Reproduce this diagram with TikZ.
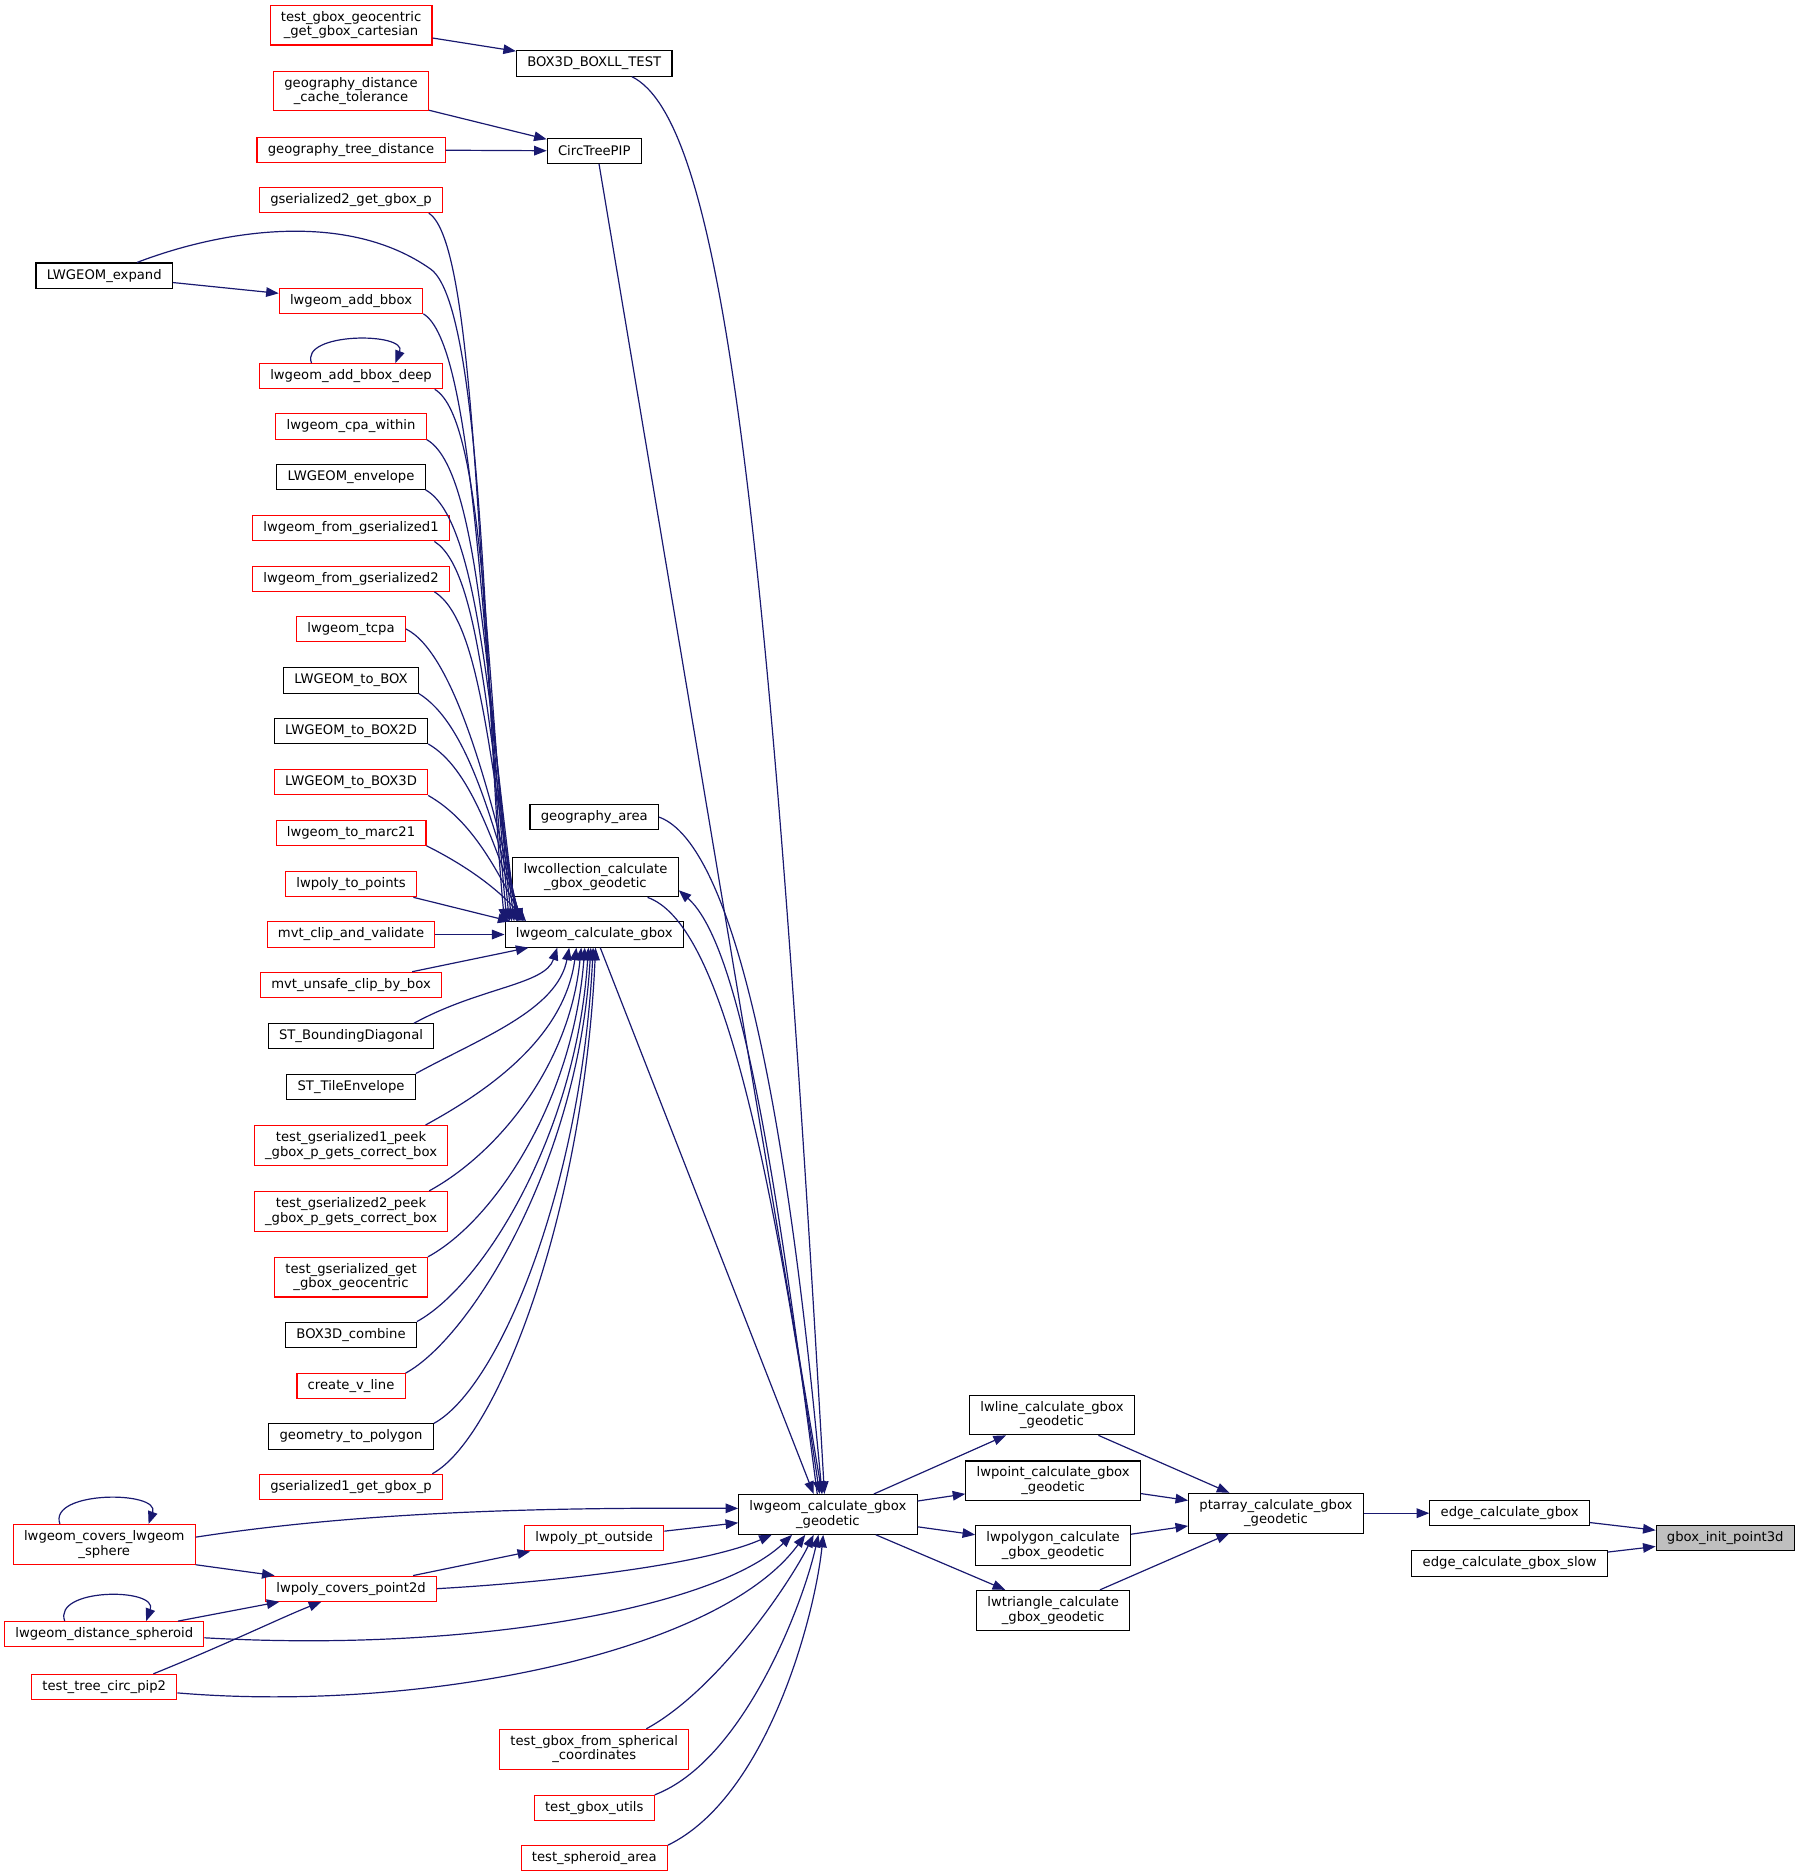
\documentclass[tikz,border=0pt]{standalone}
\usepackage{fontspec}
\setmainfont{DejaVu Sans}
\usetikzlibrary{arrows.meta}
\definecolor{callblue}{RGB}{25, 25, 112}
\definecolor{focusgray}{RGB}{191, 191, 191}
\tikzset{>={Triangle[length=10.5pt,width=8pt]}}
\tikzset{
	fn/.style={draw=black, fill=white, line width=0.9pt, inner xsep=9pt, inner ysep=5pt, minimum height=21pt, align=center, font=\fontsize{11pt}{12.2pt}\selectfont},
	fnred/.style={fn, draw=red},
	fnfocus/.style={fn, fill=focusgray},
	call/.style={draw=callblue, line width=1pt, ->, color=callblue}
}

\begin{document}
\begin{tikzpicture}[x=1pt, y=-1pt]
	\useasboundingbox (0,0) rectangle (1500,1565);

	% right part
	\node[fnfocus] (gbox) at (1440,1284) {gbox\_init\_point3d};
	\node[fn] (ecg) at (1260,1263) {edge\_calculate\_gbox};
	\node[fn] (ecgs) at (1260,1305) {edge\_calculate\_gbox\_slow};
	\node[fn] (ptarr) at (1065,1263) {ptarray\_calculate\_gbox\\\_geodetic};
	\node[fn] (lwline) at (878,1181) {lwline\_calculate\_gbox\\\_geodetic};
	\node[fn] (lwpoint) at (879,1236) {lwpoint\_calculate\_gbox\\\_geodetic};
	\node[fn] (lwpolygon) at (879,1290) {lwpolygon\_calculate\\\_gbox\_geodetic};
	\node[fn] (lwtri) at (879,1344) {lwtriangle\_calculate\\\_gbox\_geodetic};
	\node[fn] (lcgg) at (691,1264) {lwgeom\_calculate\_gbox\\\_geodetic};

	% middle column
	\node[fn] (lcg) at (496,780) {lwgeom\_calculate\_gbox};
	\node[fn] (lwcoll) at (497,732) {lwcollection\_calculate\\\_gbox\_geodetic};
	\node[fn] (garea) at (496,682) {geography\_area};
	\node[fn] (boxll) at (496,53) {BOX3D\_BOXLL\_TEST};
	\node[fn] (ctpip) at (496,126) {CircTreePIP};
	\node[fnred] (ptout) at (496,1284) {lwpoly\_pt\_outside};
	\node[fnred] (tgfs) at (496,1460) {test\_gbox\_from\_spherical\\\_coordinates};
	\node[fnred] (tgu) at (496,1509) {test\_gbox\_utils};
	\node[fnred] (tsa) at (496,1551) {test\_spheroid\_area};

	% left column
	\node[fnred] (tgeoc) at (293,21) {test\_gbox\_geocentric\\\_get\_gbox\_cartesian};
	\node[fnred] (gdct) at (293,76) {geography\_distance\\\_cache\_tolerance};
	\node[fnred] (gtd) at (293,125) {geography\_tree\_distance};
	\node[fnred] (gs2) at (293,167) {gserialized2\_get\_gbox\_p};
	\node[fn] (lexp) at (87,230) {LWGEOM\_expand};
	\node[fnred] (addbbox) at (293,251) {lwgeom\_add\_bbox};
	\node[fnred] (addbboxd) at (293,314) {lwgeom\_add\_bbox\_deep};
	\node[fnred] (cpa) at (293,356) {lwgeom\_cpa\_within};
	\node[fn] (env) at (293,398) {LWGEOM\_envelope};
	\node[fnred] (fgs1) at (293,441) {lwgeom\_from\_gserialized1};
	\node[fnred] (fgs2) at (293,483) {lwgeom\_from\_gserialized2};
	\node[fnred] (tcpa) at (293,525) {lwgeom\_tcpa};
	\node[fn] (tobox) at (293,568) {LWGEOM\_to\_BOX};
	\node[fn] (tobox2d) at (293,610) {LWGEOM\_to\_BOX2D};
	\node[fnred] (tobox3d) at (293,653) {LWGEOM\_to\_BOX3D};
	\node[fnred] (marc) at (293,695) {lwgeom\_to\_marc21};
	\node[fnred] (ptpts) at (293,738) {lwpoly\_to\_points};
	\node[fnred] (mvtclip) at (293,780) {mvt\_clip\_and\_validate};
	\node[fnred] (mvtuns) at (293,822) {mvt\_unsafe\_clip\_by\_box};
	\node[fn] (stbd) at (293,865) {ST\_BoundingDiagonal};
	\node[fn] (stte) at (293,907) {ST\_TileEnvelope};
	\node[fnred] (tgs1) at (293,956) {test\_gserialized1\_peek\\\_gbox\_p\_gets\_correct\_box};
	\node[fnred] (tgs2) at (293,1011) {test\_gserialized2\_peek\\\_gbox\_p\_gets\_correct\_box};
	\node[fnred] (tgsg) at (293,1066) {test\_gserialized\_get\\\_gbox\_geocentric};
	\node[fn] (b3comb) at (293,1114) {BOX3D\_combine};
	\node[fnred] (cvl) at (293,1157) {create\_v\_line};
	\node[fn] (gtp) at (293,1199) {geometry\_to\_polygon};
	\node[fnred] (gs1) at (293,1241) {gserialized1\_get\_gbox\_p};
	\node[fnred] (covsph) at (87,1289) {lwgeom\_covers\_lwgeom\\\_sphere};
	\node[fnred] (pcov) at (293,1326) {lwpoly\_covers\_point2d};
	\node[fnred] (dsph) at (87,1364) {lwgeom\_distance\_spheroid};
	\node[fnred] (tcp) at (87,1408) {test\_tree\_circ\_pip2};

	% calls on the right
	\draw[call] (ecg) -- (gbox);
	\draw[call] (ecgs) -- (gbox);
	\draw[call] (ptarr) -- (ecg);
	\draw[call] (lwline) -- (ptarr);
	\draw[call] (lwpoint) -- (ptarr);
	\draw[call] (lwpolygon) -- (ptarr);
	\draw[call] (lwtri) -- (ptarr);
	\draw[call] (lcgg) -- (lwline);
	\draw[call] (lcgg) -- (lwpoint);
	\draw[call] (lcgg) -- (lwpolygon);
	\draw[call] (lcgg) -- (lwtri);

	% into lwgeom_calculate_gbox_geodetic from above
	\draw[call] ([xshift=5pt]lcg.south) -- ([xshift=63pt]lcgg.north west);
	\draw[call] (garea.east) .. controls (600,700) and (650,850) .. ([xshift=70pt]lcgg.north west);
	\draw[call] ([xshift=-26pt]lwcoll.south east) .. controls (600,770) and (640,950) .. ([xshift=68pt]lcgg.north west);
	\draw[call] ([xshift=66pt]lcgg.north west) .. controls (650,1000) and (620,790) .. ([yshift=6pt]lwcoll.south east);
	\draw[call] ([xshift=-34pt]boxll.south east) .. controls (600,100) and (640,400) .. ([xshift=72pt]lcgg.north west);
	\draw[call] ([xshift=4pt]ctpip.south) -- ([xshift=70pt]lcgg.north west);

	% into lwgeom_calculate_gbox_geodetic from the left and below
	\draw[call] ([yshift=6pt]covsph.east) .. controls (300,1262) and (450,1258) .. ([yshift=5pt]lcgg.west);
	\draw[call] ([yshift=6pt]ptout.east) -- ([yshift=-7pt]lcgg.west);
	\draw[call] (pcov.east) .. controls (470,1320) and (590,1305) .. ([xshift=28pt]lcgg.south west);
	\draw[call] ([yshift=-3pt]dsph.east) .. controls (400,1380) and (600,1340) .. ([xshift=45pt]lcgg.south west);
	\draw[call] ([yshift=-5pt]tcp.east) .. controls (350,1430) and (600,1380) .. ([xshift=56pt]lcgg.south west);
	\draw[call] ([xshift=-36pt]tgfs.north east) .. controls (600,1410) and (660,1320) .. ([xshift=63pt]lcgg.south west);
	\draw[call] (tgu.north east) .. controls (620,1470) and (670,1340) .. ([xshift=67pt]lcgg.south west);
	\draw[call] (tsa.north east) .. controls (640,1500) and (680,1350) .. ([xshift=71pt]lcgg.south west);

	% bottom left group
	\draw[call] ([xshift=-37pt]covsph.north) .. controls +(-10,-28) and +(10,-28) .. ([xshift=37pt]covsph.north);
	\draw[call] ([xshift=-33pt]dsph.north) .. controls +(-10,-28) and +(10,-28) .. ([xshift=35pt]dsph.north);
	\draw[call] (covsph.south east) -- ([xshift=8pt]pcov.north west);
	\draw[call] ([xshift=-22pt]dsph.north east) -- ([xshift=12pt]pcov.south west);
	\draw[call] ([xshift=-20pt]tcp.north east) .. controls (190,1372) and (235,1350) .. ([xshift=47pt]pcov.south west);
	\draw[call] ([xshift=-20pt]pcov.north east) -- ([xshift=5pt]ptout.south west);

	% top left group
	\draw[call] (tgeoc) -- (boxll);
	\draw[call] (gdct) -- (ctpip);
	\draw[call] (gtd) -- (ctpip);
	\draw[call] (lexp) -- (addbbox);
	\draw[call] ([xshift=-33pt]addbboxd.north) .. controls +(-10,-26) and +(10,-26) .. ([xshift=37pt]addbboxd.north);

	% into lwgeom_calculate_gbox from above
	\draw[call] ([xshift=-12pt]gs2.south east) .. controls +(40,25) and +(-25,-267) .. ([xshift=2pt]lcg.north west);
	\draw[call] ([xshift=-30pt]lexp.north east) .. controls (185,192) and (290,175) .. (360,225) .. controls (405,260) and (405,600) .. (lcg.north west);
	\draw[call] (addbbox.south east) .. controls +(42,25) and +(-22,-229) .. ([xshift=4pt]lcg.north west);
	\draw[call] ([xshift=-7pt]addbboxd.south east) .. controls +(42,25) and +(-22,-201) .. ([xshift=6pt]lcg.north west);
	\draw[call] (cpa.south east) .. controls +(45,25) and +(-22,-182) .. ([xshift=8pt]lcg.north west);
	\draw[call] (env.south east) .. controls +(45,25) and +(-22,-164) .. ([xshift=10pt]lcg.north west);
	\draw[call] ([xshift=-13pt]fgs1.south east) .. controls +(40,25) and +(-25,-144) .. ([xshift=11pt]lcg.north west);
	\draw[call] ([xshift=-13pt]fgs2.south east) .. controls +(40,25) and +(-25,-124) .. ([xshift=12pt]lcg.north west);
	\draw[call] (tcpa.east) .. controls +(40,20) and +(-25,-109) .. ([xshift=13pt]lcg.north west);
	\draw[call] (tobox.south east) .. controls +(40,25) and +(-25,-86) .. ([xshift=14pt]lcg.north west);
	\draw[call] (tobox2d.south east) .. controls +(35,20) and +(-25,-67) .. ([xshift=15pt]lcg.north west);
	\draw[call] (tobox3d.south east) .. controls +(35,20) and +(-25,-48) .. ([xshift=16pt]lcg.north west);
	\draw[call] (marc.south east) .. controls +(30,15) and +(-25,-29) .. ([xshift=18pt]lcg.north west);
	\draw[call] ([xshift=-3pt]ptpts.south east) -- ([xshift=5pt]lcg.north west);
	\draw[call] (mvtclip) -- (lcg);

	% into lwgeom_calculate_gbox from below
	\draw[call] ([xshift=-25pt]mvtuns.north east) -- ([xshift=20pt]lcg.south west);
	\draw[call] ([xshift=-17pt]stbd.north east) .. controls +(55,-30) and +(-10,31) .. ([xshift=44pt]lcg.south west);
	\draw[call] (stte.north east) .. controls +(55,-30) and +(-10,52) .. ([xshift=54pt]lcg.south west);
	\draw[call] ([xshift=-19pt]tgs1.north east) .. controls +(55,-30) and +(-10,74) .. ([xshift=60pt]lcg.south west);
	\draw[call] ([xshift=-16pt]tgs2.north east) .. controls +(55,-30) and +(-10,101) .. ([xshift=64pt]lcg.south west);
	\draw[call] (tgsg.north east) .. controls +(55,-30) and +(-10,129) .. ([xshift=67pt]lcg.south west);
	\draw[call] (b3comb.north east) .. controls +(55,-30) and +(-10,156) .. ([xshift=70pt]lcg.south west);
	\draw[call] (cvl.north east) .. controls +(55,-30) and +(-10,178) .. ([xshift=72pt]lcg.south west);
	\draw[call] (gtp.north east) .. controls +(55,-30) and +(-10,199) .. ([xshift=74pt]lcg.south west);
	\draw[call] ([xshift=-9pt]gs1.north east) .. controls +(55,-30) and +(-10,220) .. ([xshift=76pt]lcg.south west);
\end{tikzpicture}
\end{document}
